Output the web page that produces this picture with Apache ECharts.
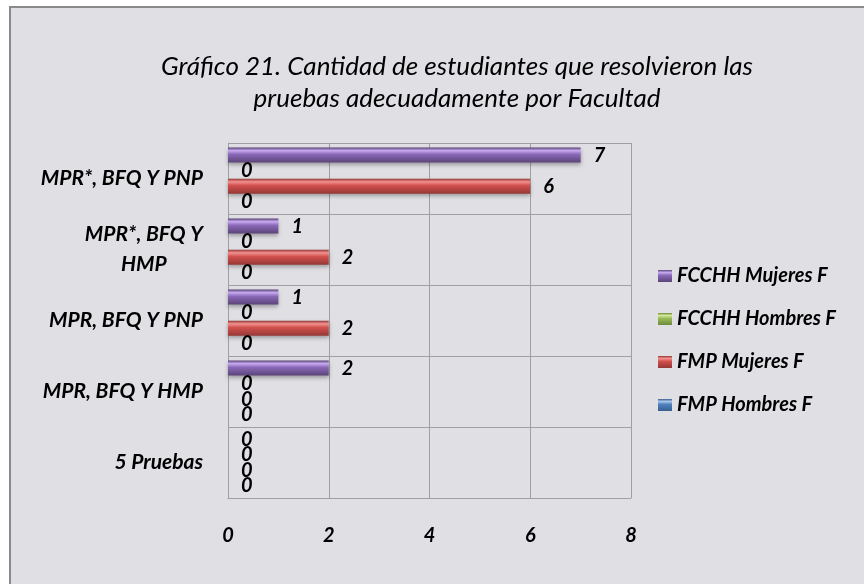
<!DOCTYPE html>
<html>
<head>
<meta charset="utf-8">
<script src="https://cdn.jsdelivr.net/npm/echarts@6/dist/echarts.min.js"></script>
<style>
  html, body { margin: 0; padding: 0; background: #fff; }
  #chart { width: 864px; height: 584px; }
</style>
</head>
<body>
<div id="chart"></div>
<script>
// categorias de abajo hacia arriba (eje y)
var categorias = ["5 Pruebas", "MPR, BFQ Y HMP", "MPR, BFQ Y PNP", "MPR*, BFQ Y\nHMP", "MPR*, BFQ Y PNP"];
var fcchhMujeres = [0, 2, 1, 1, 7];
var fcchhHombres = [0, 0, 0, 0, 0];
var fmpMujeres = [0, 0, 2, 2, 6];
var fmpHombres = [0, 0, 0, 0, 0];
var ticksX = [0, 2, 4, 6, 8];

var fuente = "Lato";

// colores con brillo tipo Excel
function degradado(claro, medio, oscuro) {
    return new echarts.graphic.LinearGradient(0, 0, 0, 1, [
        {offset: 0, color: oscuro},
        {offset: 0.2, color: claro},
        {offset: 0.45, color: medio},
        {offset: 1, color: oscuro}
    ]);
}

var etiqueta = {
    show: true,
    position: "right",
    distance: 13,
    color: "#000",
    fontFamily: fuente,
    fontSize: 20,
    fontStyle: "italic",
    fontWeight: "bold"
};

function serie(nombre, datos, colores) {
    return {
        name: nombre,
        type: "bar",
        data: datos,
        barWidth: 15,
        barGap: "4%",
        label: etiqueta,
        itemStyle: {
            color: degradado(colores[0], colores[1], colores[2]),
            shadowColor: "rgba(0,0,0,0.3)",
            shadowBlur: 4,
            shadowOffsetY: 2
        }
    };
}

var chart = echarts.init(document.getElementById("chart"));

chart.setOption({
    backgroundColor: "#fff",
    animation: false,
    graphic: [{
        type: "rect",
        z: -10,
        shape: {x: 10, y: 7, width: 900, height: 700},
        style: {fill: "#e0dfe4", stroke: "#8a8a8a", lineWidth: 2}
    }],
    title: {
        text: "Gráfico 21. Cantidad de estudiantes que resolvieron las\npruebas adecuadamente por Facultad",
        left: 452,
        top: 46,
        textAlign: "center",
        textStyle: {
            fontFamily: fuente,
            fontSize: 26,
            fontStyle: "italic",
            fontWeight: "normal",
            lineHeight: 32,
            color: "#000"
        }
    },
    legend: {
        orient: "vertical",
        left: 653,
        top: 260,
        icon: "rect",
        itemWidth: 14,
        itemHeight: 12,
        itemGap: 21,
        data: ["FCCHH Mujeres F", "FCCHH Hombres F", "FMP Mujeres F", "FMP Hombres F"],
        textStyle: {
            fontFamily: fuente,
            fontSize: 20,
            fontStyle: "italic",
            fontWeight: "bold",
            lineHeight: 22,
            color: "#000"
        }
    },
    grid: {left: 228, top: 143, width: 403, height: 355},
    xAxis: {
        type: "value",
        min: ticksX[0],
        max: ticksX[ticksX.length - 1],
        interval: 2,
        axisLine: {show: true, lineStyle: {color: "#a0a0a0"}},
        axisTick: {show: false},
        splitLine: {show: true, lineStyle: {color: "#a0a0a0"}},
        axisLabel: {
            margin: 28,
            color: "#000",
            fontFamily: fuente,
            fontSize: 20,
            fontStyle: "italic",
            fontWeight: "bold"
        }
    },
    yAxis: {
        type: "category",
        data: categorias,
        axisLine: {show: true, lineStyle: {color: "#a0a0a0"}},
        axisTick: {show: false},
        splitLine: {show: true, lineStyle: {color: "#a0a0a0"}},
        axisLabel: {
            margin: 25,
            formatter: function (v) {
                return v.split("\n").map(function (l) { return "{a|" + l + "}"; }).join("\n");
            },
            rich: {
                a: {
                    align: "center",
                    color: "#000",
                    fontFamily: fuente,
                    fontSize: 21,
                    fontStyle: "italic",
                    fontWeight: "bold",
                    lineHeight: 30
                }
            }
        }
    },
    series: [
        serie("FCCHH Mujeres F", fcchhMujeres, ["#c7a9f0", "#8a68b8", "#5b4478"]),
        serie("FCCHH Hombres F", fcchhHombres, ["#d2ea9a", "#9bbb59", "#6f8a3a"]),
        serie("FMP Mujeres F", fmpMujeres, ["#f29290", "#d0504d", "#953735"]),
        serie("FMP Hombres F", fmpHombres, ["#a9c6ec", "#4f81bd", "#365f8f"])
    ]
});
</script>
</body>
</html>
